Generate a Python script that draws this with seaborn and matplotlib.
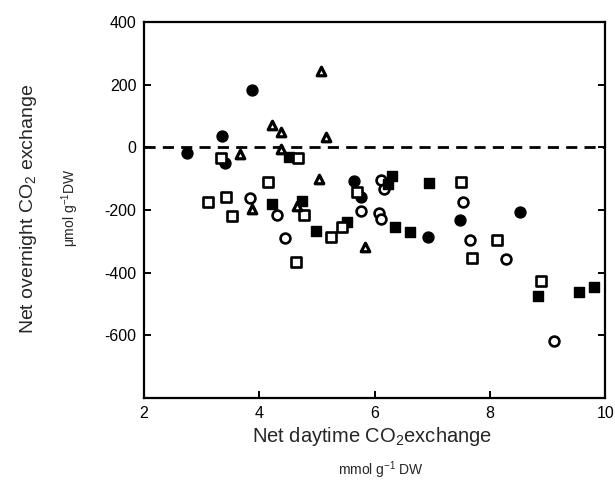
import matplotlib
matplotlib.use("Agg")
import matplotlib.pyplot as plt
import seaborn as sns
import pandas as pd

# Net daytime CO2 exchange (mmol g-1 DW) vs net overnight CO2 exchange (umol g-1 DW)
filled_circle_x = [2.74, 3.36, 3.40, 3.88, 5.64, 5.76, 6.93, 7.48, 8.53]
filled_circle_y = [-19, 37, -51, 184, -108, -159, -286, -232, -206]

open_circle_x = [3.84, 4.31, 4.45, 5.76, 6.07, 6.12, 6.12, 6.17, 7.53, 7.66, 8.28, 9.12]
open_circle_y = [-162, -216, -289, -203, -210, -229, -105, -133, -175, -295, -356, -619]

open_square_x = [3.34, 3.12, 3.43, 3.52, 4.16, 4.67, 4.78, 4.64, 5.24, 5.43, 5.69,
                 7.50, 7.69, 8.12, 8.88]
open_square_y = [-35, -175, -159, -219, -111, -35, -216, -365, -286, -254, -143,
                 -111, -352, -295, -425]

filled_square_x = [4.52, 4.22, 4.74, 4.98, 5.52, 6.24, 6.31, 6.36, 6.62, 6.95,
                   8.84, 9.55, 9.81]
filled_square_y = [-29, -181, -171, -267, -238, -117, -92, -254, -270, -114,
                   -473, -463, -444]

triangle_x = [3.66, 4.22, 4.38, 4.38, 5.07, 5.16, 5.03, 3.88, 4.66, 5.84]
triangle_y = [-22, 73, 51, -6, 244, 35, -102, -197, -187, -317]

x_ticks = [2, 4, 6, 8, 10]
y_ticks = [400, 200, 0, -200, -400, -600]

sns.set_style("ticks")
plt.rcParams["font.family"] = ["Liberation Sans", "DejaVu Sans"]
plt.rcParams["mathtext.fontset"] = "custom"
plt.rcParams["mathtext.rm"] = "Liberation Sans"
plt.rcParams["mathtext.it"] = "Liberation Sans:italic"

frames = []
for name, xs, ys in [
    ("open_square", open_square_x, open_square_y),
    ("filled_circle", filled_circle_x, filled_circle_y),
    ("open_circle", open_circle_x, open_circle_y),
    ("filled_square", filled_square_x, filled_square_y),
    ("triangle", triangle_x, triangle_y),
]:
    frames.append(pd.DataFrame({"day": xs, "night": ys, "group": name}))
df = pd.concat(frames, ignore_index=True)

styles = {
    "filled_circle": dict(marker="o", s=62, color="black", edgecolor="black", linewidth=1.0),
    "open_circle": dict(marker="o", s=50, color="white", edgecolor="black", linewidth=1.9),
    "filled_square": dict(marker="s", s=52, color="black", edgecolor="black", linewidth=1.0),
    "open_square": dict(marker="s", s=48, color="white", edgecolor="black", linewidth=1.9),
    "triangle": dict(marker="^", s=38, color="white", edgecolor="black", linewidth=2.3),
}

fig = plt.figure(figsize=(6.15, 4.83), dpi=100)
ax = fig.add_axes([0.234, 0.176, 0.750, 0.778])

ax.axhline(0, color="black", linewidth=2.0, linestyle=(0, (4, 2.6)), zorder=1)

for name in ["filled_circle", "open_circle", "filled_square", "open_square", "triangle"]:
    sub = df[df["group"] == name]
    sns.scatterplot(data=sub, x="day", y="night", ax=ax, legend=False, zorder=3,
                    **styles[name])

ax.set_xlim(2, 10)
ax.set_ylim(-800, 400)
ax.set_xticks(x_ticks)
ax.set_yticks(y_ticks)
ax.set_xticklabels([str(v) for v in x_ticks])
ax.set_yticklabels([str(v) for v in y_ticks])

for side in ["left", "right", "top", "bottom"]:
    ax.spines[side].set_visible(True)
    ax.spines[side].set_linewidth(1.6)
    ax.spines[side].set_color("black")

ax.tick_params(axis="both", direction="in", length=5, width=1.4, labelsize=11.5,
               colors="black", pad=5.5)
ax.tick_params(axis="y", right=True, labelright=False)
ax.tick_params(axis="x", top=False)

ax.set_xlabel("")
ax.set_ylabel("")

fig.text(0.605, 0.097, "Net daytime CO$_2$exchange", ha="center", va="center",
         fontsize=14.5)
fig.text(0.62, 0.026, "mmol g$^{-1}$ DW", ha="center", va="center", fontsize=10)
fig.text(0.047, 0.567, "Net overnight CO$_2$ exchange", ha="center", va="center",
         rotation=90, fontsize=14)
fig.text(0.114, 0.571, "\u03bcmol g$^{-1}$DW", ha="center", va="center",
         rotation=90, fontsize=10)

fig.savefig("out.png", dpi=100, facecolor="white")
